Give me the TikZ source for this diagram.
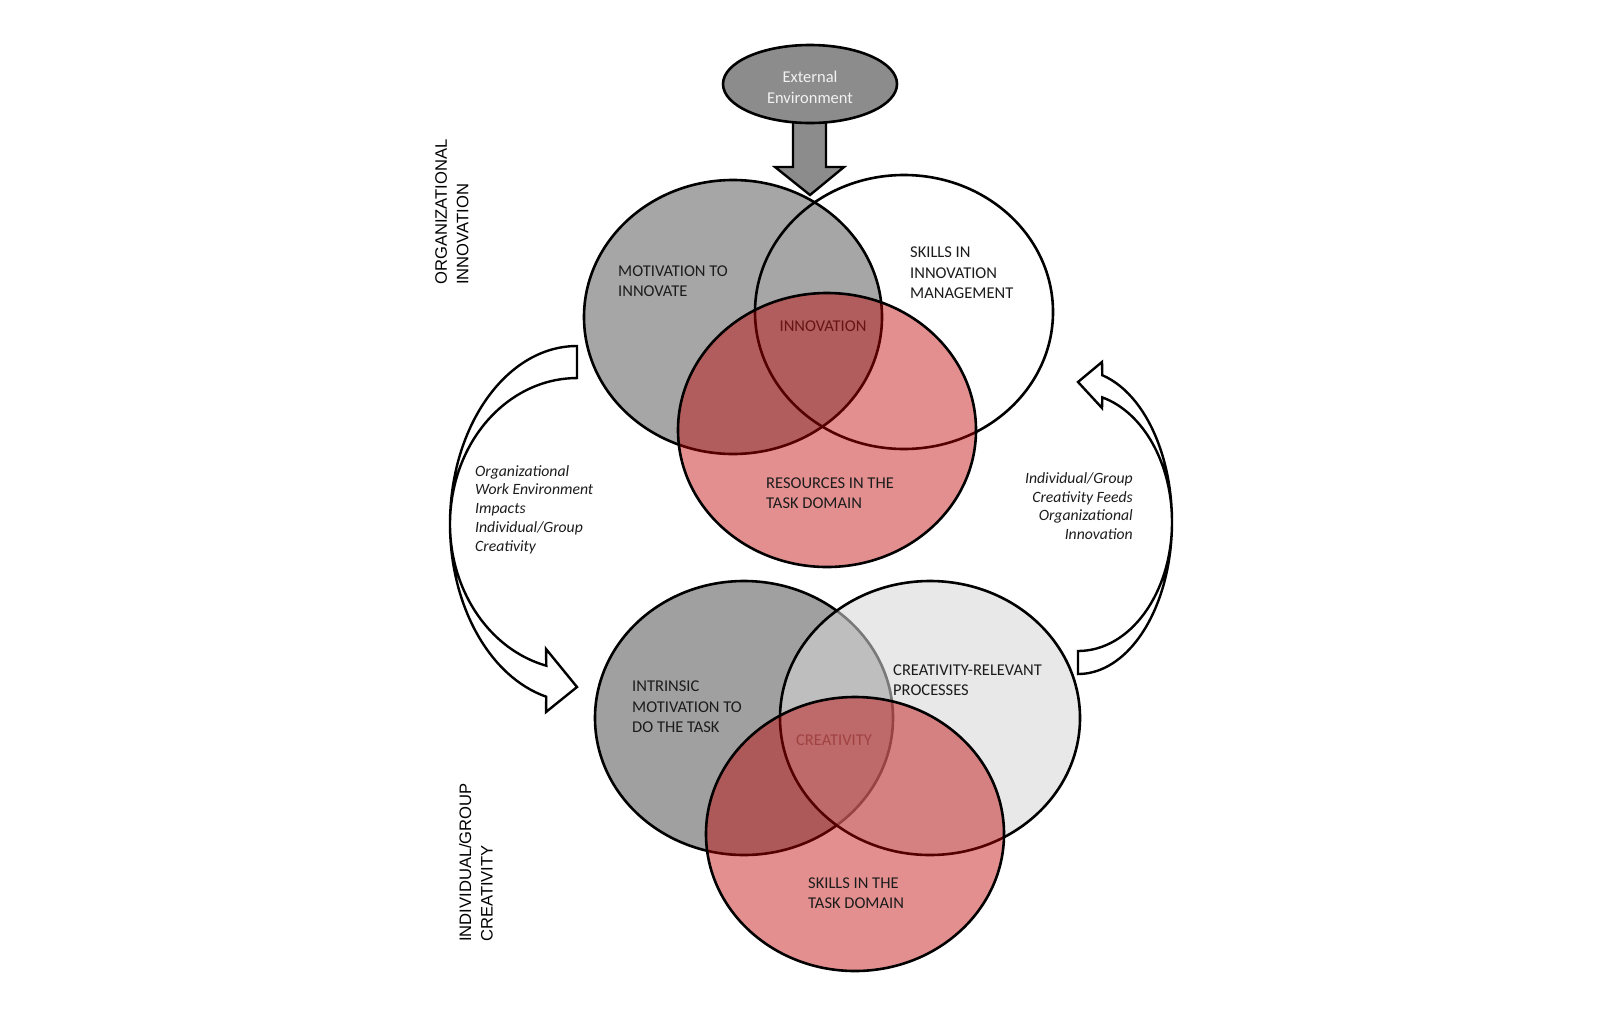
\documentclass[tikz,border=0pt]{standalone}
\usepackage{fontspec}
\setmainfont{Carlito}
\newfontfamily\sidefont{Liberation Sans}
\usetikzlibrary{shapes.geometric}

\definecolor{extgray}{HTML}{8C8C8C}
\definecolor{motgray}{HTML}{A6A6A6}
\definecolor{intgray}{HTML}{A0A0A0}
\definecolor{procgray}{HTML}{D6D6D6}
\definecolor{vennred}{HTML}{C00000}
\definecolor{labeltext}{HTML}{1C1C1C}
\definecolor{innotext}{HTML}{661414}
\definecolor{creatext}{HTML}{A04242}

\begin{document}
\begin{tikzpicture}[
        x=1pt, y=-1pt,
        VennLine/.style={draw=black, line width=2.6pt},
        RedSet/.style={fill=vennred, fill opacity=0.44},
        BlockArrow/.style={draw=black, fill=white, line width=2.4pt, line join=miter},
        SetLabel/.style={inner sep=0pt, align=left, anchor=west, text=labeltext, font=\fontsize{16.5}{20.5}\selectfont},
        CoreLabel/.style={inner sep=0pt, font=\fontsize{16.5}{20.5}\selectfont},
        ArrowLabel/.style={inner sep=0pt, text=labeltext, font=\itshape\fontsize{15.7}{18.8}\selectfont},
        SideLabel/.style={inner sep=0pt, rotate=90, anchor=west, align=left, font=\sidefont\fontsize{16.6}{21.5}\selectfont},
        ]
    \useasboundingbox (0,0) rectangle (1614,1010);

    % feedback arrows
    \draw [BlockArrow] (577,346) arc [start angle=270, end angle=104, x radius=127, y radius=178]
        -- (546,712) -- (577,687) -- (546,649) -- (546.3,665.7)
        arc [start angle=104, end angle=270, x radius=127, y radius=146] -- cycle;
    \draw [BlockArrow] (1078,651) arc [start angle=90, end angle=-75, x radius=94, y radius=129]
        -- (1102,408) -- (1078,382) -- (1102,362) -- (1102.3,375.2)
        arc [start angle=-75, end angle=90, x radius=94, y radius=152] -- cycle;

    % organizational innovation
    \fill [white] (904,312) ellipse [x radius=149, y radius=137];
    \fill [motgray] (733,317) ellipse [x radius=149, y radius=137];
    \draw [VennLine] (733,317) ellipse [x radius=149, y radius=137];
    \draw [VennLine] (904,312) ellipse [x radius=149, y radius=137];
    \fill [RedSet] (827,430) ellipse [x radius=149, y radius=137];
    \draw [VennLine] (827,430) ellipse [x radius=149, y radius=137];

    % individual/group creativity
    \fill [intgray] (744,718) ellipse [x radius=149, y radius=137];
    \draw [VennLine] (744,718) ellipse [x radius=149, y radius=137];
    \fill [procgray, fill opacity=0.57] (930,718) ellipse [x radius=150, y radius=137];
    \draw [VennLine] (930,718) ellipse [x radius=150, y radius=137];
    \fill [RedSet] (855,834) ellipse [x radius=149, y radius=137];
    \draw [VennLine] (855,834) ellipse [x radius=149, y radius=137];

    % external environment
    \draw [draw=black, fill=extgray, line width=2.4pt, line join=miter]
        (793,116) -- (826,116) -- (826,167) -- (844,167) -- (810,195) -- (775,167) -- (793,167) -- cycle;
    \node [ellipse, draw=black, fill=extgray, line width=2.6pt, inner sep=0pt,
        minimum width=174pt, minimum height=78pt] (extshape) at (810,84) {};
    \node [align=center, inner sep=0pt, text=white!95!black, font=\fontsize{16.5}{21}\selectfont]
        (extenv) at (810,87.5) {External\\Environment};

    \node [SetLabel] (motinno) at (618,281) {MOTIVATION TO\\INNOVATE};
    \node [SetLabel] (skillsinno) at (910,273) {SKILLS IN\\INNOVATION\\MANAGEMENT};
    \node [CoreLabel, text=innotext] (innovation) at (823,326) {INNOVATION};
    \node [SetLabel] (resources) at (766,493) {RESOURCES IN THE\\TASK DOMAIN};

    \node [SetLabel] (intrinsic) at (632,707) {INTRINSIC\\MOTIVATION TO\\DO THE TASK};
    \node [SetLabel] (processes) at (893,680) {CREATIVITY-RELEVANT\\PROCESSES};
    \node [CoreLabel, text=creatext] (creativity) at (834,740) {CREATIVITY};
    \node [SetLabel] (skillstask) at (808,893) {SKILLS IN THE\\TASK DOMAIN};

    \node [ArrowLabel, align=left, anchor=west] (impacts) at (475,509.5)
        {Organizational\\Work Environment\\Impacts\\Individual/Group\\Creativity};
    \node [ArrowLabel, align=right, anchor=east] (feeds) at (1133,506)
        {Individual/Group\\Creativity Feeds\\Organizational\\Innovation};

    \node [SideLabel] (orglevel) at (452,285) {ORGANIZATIONAL\\INNOVATION};
    \node [SideLabel] (grouplevel) at (476,942) {INDIVIDUAL/GROUP\\CREATIVITY};
\end{tikzpicture}
\end{document}
